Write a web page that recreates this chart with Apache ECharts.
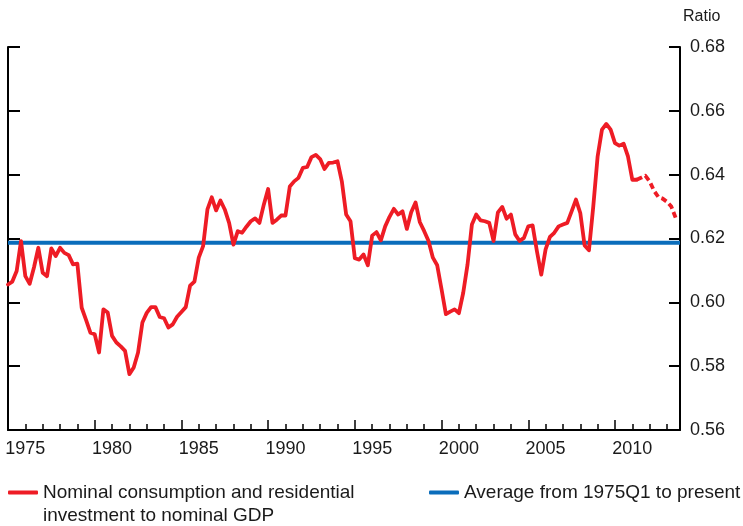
<!DOCTYPE html>
<html>
<head>
<meta charset="utf-8">
<script src="https://cdn.jsdelivr.net/npm/echarts@6/dist/echarts.min.js"></script>
<style>
    html, body { margin: 0; padding: 0; background: #fff; }
    #chart { width: 743px; height: 526px; }
</style>
</head>
<body>
<div id="chart"></div>
<script>
// quarterly ratio, 1974Q1 - 2010Q2 (actual)
var startYear = 1974;
var ratio = [
    0.6056, 0.6065, 0.6098, 0.6192, // 1974
    0.6082, 0.6058, 0.6110, 0.6171,
    0.6093, 0.6082, 0.6169, 0.6145,
    0.6171, 0.6155, 0.6148, 0.6119,
    0.6121, 0.5983, 0.5945, 0.5905,
    0.5900, 0.5843, 0.5978, 0.5968, // 1979
    0.5895, 0.5874, 0.5862, 0.5848,
    0.5775, 0.5796, 0.5843, 0.5937,
    0.5967, 0.5985, 0.5985, 0.5954,
    0.5950, 0.5921, 0.5931, 0.5955,
    0.5970, 0.5985, 0.6052, 0.6065, // 1984
    0.6140, 0.6176, 0.6291, 0.6329,
    0.6288, 0.6319, 0.6291, 0.6249,
    0.6181, 0.6223, 0.6218, 0.6237,
    0.6254, 0.6263, 0.6249, 0.6306,
    0.6355, 0.6249, 0.6259, 0.6272, // 1989
    0.6272, 0.6363, 0.6379, 0.6390,
    0.6421, 0.6424, 0.6455, 0.6462,
    0.6449, 0.6418, 0.6437, 0.6438,
    0.6442, 0.6379, 0.6275, 0.6254,
    0.6138, 0.6134, 0.6150, 0.6116, // 1994
    0.6209, 0.6220, 0.6194, 0.6238,
    0.6268, 0.6293, 0.6275, 0.6285,
    0.6230, 0.6282, 0.6313, 0.6251,
    0.6223, 0.6192, 0.6140, 0.6116,
    0.6041, 0.5963, 0.5971, 0.5978, // 1999
    0.5966, 0.6030, 0.6119, 0.6244,
    0.6275, 0.6257, 0.6254, 0.6249,
    0.6192, 0.6282, 0.6299, 0.6262,
    0.6275, 0.6213, 0.6192, 0.6202,
    0.6238, 0.6241, 0.6160, 0.6087, // 2004
    0.6166, 0.6205, 0.6218, 0.6238,
    0.6244, 0.6249, 0.6285, 0.6322,
    0.6280, 0.6178, 0.6163, 0.6301,
    0.6457, 0.6541, 0.6559, 0.6541,
    0.6499, 0.6491, 0.6497, 0.6457, // 2009
    0.6384, 0.6384
];
// dashed part, 2010Q2 - 2012Q3
var projection = [0.6384, 0.6390, 0.6397, 0.6379, 0.6350, 0.6330, 0.6325, 0.6315, 0.6300, 0.6265];
var average = 0.6187;
var xRange = [1974, 2012.75];
var yRange = [0.56, 0.68];

var redName = 'Nominal consumption and residential\ninvestment to nominal GDP';
var blueName = 'Average from 1975Q1 to present';

var font = 'Liberation Sans, Arial, Helvetica, sans-serif';

var solidData = [];
for (var i = 0; i < ratio.length; i++) {
    solidData.push([startYear + i / 4, ratio[i]]);
}
var dashData = [];
var dashStart = ratio.length - 1;
for (var j = 0; j < projection.length; j++) {
    dashData.push([startYear + (dashStart + j) / 4, projection[j]]);
}

var chart = echarts.init(document.getElementById('chart'), null, {renderer: 'canvas'});
var option = {
    animation: false,
    grid: {left: 8, right: 63, top: 47, bottom: 96},
    legend: [
        {
            data: [redName],
            left: 8,
            top: 458,
            padding: 0,
            icon: 'roundRect',
            itemWidth: 30,
            itemHeight: 4,
            selectedMode: false,
            // blank first line keeps the icon level with the first text line
            formatter: function (name) {
                return ' \n' + name;
            },
            textStyle: {fontSize: 19, fontFamily: font, color: '#1a1a1a', lineHeight: 23}
        },
        {
            data: [blueName],
            left: 429,
            top: 481,
            padding: 0,
            icon: 'roundRect',
            itemWidth: 30,
            itemHeight: 4,
            selectedMode: false,
            textStyle: {fontSize: 19, fontFamily: font, color: '#1a1a1a', lineHeight: 23}
        }
    ],
    xAxis: [
        {
            type: 'value',
            min: xRange[0],
            max: xRange[1],
            interval: 1,
            position: 'bottom',
            axisLine: {lineStyle: {color: '#000', width: 2}},
            axisTick: {inside: true, length: 6, lineStyle: {color: '#000', width: 1.5}},
            axisLabel: {
                margin: 10,
                fontSize: 18,
                fontFamily: font,
                color: '#1a1a1a',
                formatter: function (v) {
                    return (Math.abs(v - Math.round(v)) < 1e-6 && Math.round(v) % 5 === 0) ? String(Math.round(v)) : '';
                }
            },
            splitLine: {show: false}
        },
        {
            type: 'value',
            min: xRange[0],
            max: xRange[1],
            interval: 5,
            position: 'bottom',
            offset: 0,
            axisLine: {show: false},
            axisTick: {inside: true, length: 10, lineStyle: {color: '#000', width: 1.5}},
            axisLabel: {show: false},
            splitLine: {show: false}
        }
    ],
    yAxis: [
        {
            type: 'value',
            position: 'right',
            min: yRange[0],
            max: yRange[1],
            interval: 0.02,
            name: 'Ratio',
            nameLocation: 'end',
            nameGap: 30,
            nameTextStyle: {fontSize: 16, fontFamily: font, color: '#1a1a1a', align: 'left', verticalAlign: 'middle', padding: [0, 0, 0, 3]},
            axisLine: {show: true, lineStyle: {color: '#000', width: 2}},
            axisTick: {show: true, inside: true, length: 11, lineStyle: {color: '#000', width: 2}},
            axisLabel: {
                margin: 10,
                fontSize: 18,
                fontFamily: font,
                color: '#1a1a1a',
                formatter: function (v) { return v.toFixed(2); }
            },
            splitLine: {show: false}
        },
        {
            type: 'value',
            position: 'left',
            min: yRange[0],
            max: yRange[1],
            interval: 0.02,
            axisLine: {show: true, lineStyle: {color: '#000', width: 2}},
            axisTick: {show: true, inside: true, length: 12, lineStyle: {color: '#000', width: 2}},
            axisLabel: {show: false},
            splitLine: {show: false}
        }
    ],
    series: [
        {
            name: blueName,
            type: 'line',
            data: [[xRange[0], average], [xRange[1], average]],
            showSymbol: false,
            color: '#0a6dbb',
            lineStyle: {width: 4, color: '#0a6dbb'},
            z: 2
        },
        {
            name: redName,
            type: 'line',
            data: solidData,
            showSymbol: false,
            color: '#ee1c25',
            lineStyle: {width: 3.8, color: '#ee1c25', cap: 'round', join: 'round'},
            z: 3
        },
        {
            name: 'projection',
            type: 'line',
            data: dashData,
            showSymbol: false,
            color: '#ee1c25',
            lineStyle: {width: 3.8, color: '#ee1c25', type: [6, 3.5], join: 'round'},
            z: 3
        }
    ]
};
chart.setOption(option);
</script>
</body>
</html>
